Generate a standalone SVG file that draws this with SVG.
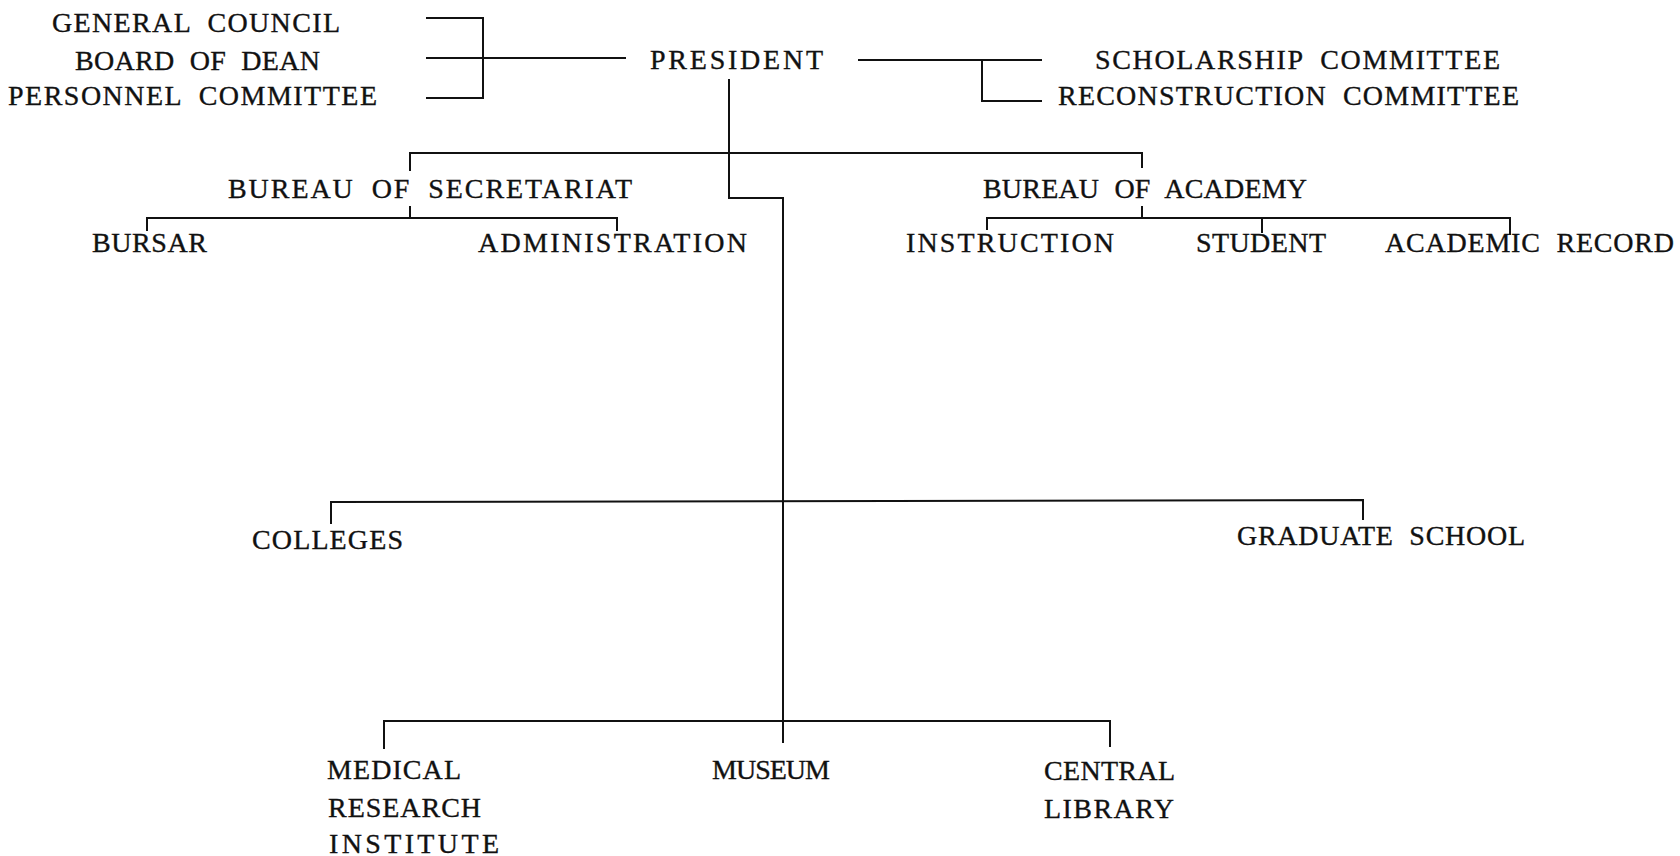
<svg xmlns="http://www.w3.org/2000/svg" width="1680" height="856" viewBox="0 0 1680 856">
<style>
.t{font-family:"Liberation Serif","Times New Roman",serif;font-size:28px;fill:#111;stroke:#111;stroke-width:0.35px;word-spacing:8px;}
.c line,.c polyline{stroke:#111;stroke-width:2;fill:none;stroke-linecap:square;}
</style>
<rect width="1680" height="856" fill="#fff"/>
<g id="general-council"><text class="t" x="52" y="32" textLength="288" lengthAdjust="spacing">GENERAL COUNCIL</text></g>
<g id="board-of-dean"><text class="t" x="75" y="70" textLength="245" lengthAdjust="spacing">BOARD OF DEAN</text></g>
<g id="personnel-committee"><text class="t" x="8" y="105" textLength="369" lengthAdjust="spacing">PERSONNEL COMMITTEE</text></g>
<g id="president"><text class="t" x="650" y="69" textLength="173" lengthAdjust="spacing">PRESIDENT</text></g>
<g id="scholarship-committee"><text class="t" x="1095" y="69" textLength="405" lengthAdjust="spacing">SCHOLARSHIP COMMITTEE</text></g>
<g id="reconstruction-committee"><text class="t" x="1058" y="105" textLength="461" lengthAdjust="spacing">RECONSTRUCTION COMMITTEE</text></g>
<g id="bureau-secretariat"><text class="t" x="228" y="198" textLength="404" lengthAdjust="spacing">BUREAU OF SECRETARIAT</text></g>
<g id="bureau-academy"><text class="t" x="983" y="198" textLength="324" lengthAdjust="spacing">BUREAU OF ACADEMY</text></g>
<g id="bursar"><text class="t" x="92" y="252" textLength="115" lengthAdjust="spacing">BURSAR</text></g>
<g id="administration"><text class="t" x="478" y="252" textLength="269" lengthAdjust="spacing">ADMINISTRATION</text></g>
<g id="instruction"><text class="t" x="906" y="252" textLength="208" lengthAdjust="spacing">INSTRUCTION</text></g>
<g id="student"><text class="t" x="1196" y="252" textLength="130" lengthAdjust="spacing">STUDENT</text></g>
<g id="academic-record"><text class="t" x="1385" y="252" textLength="289" lengthAdjust="spacing">ACADEMIC RECORD</text></g>
<g id="colleges"><text class="t" x="252" y="549" textLength="151" lengthAdjust="spacing">COLLEGES</text></g>
<g id="graduate-school"><text class="t" x="1237" y="545" textLength="288" lengthAdjust="spacing">GRADUATE SCHOOL</text></g>
<g id="medical-research-institute">
<text class="t" x="327" y="779" textLength="134" lengthAdjust="spacing">MEDICAL</text>
<text class="t" x="328" y="817" textLength="153" lengthAdjust="spacing">RESEARCH</text>
<text class="t" x="329" y="853" textLength="170" lengthAdjust="spacing">INSTITUTE</text>
</g>
<g id="museum"><text class="t" x="712" y="779" textLength="118" lengthAdjust="spacing">MUSEUM</text></g>
<g id="central-library">
<text class="t" x="1044" y="780" textLength="131" lengthAdjust="spacing">CENTRAL</text>
<text class="t" x="1044" y="818" textLength="130" lengthAdjust="spacing">LIBRARY</text>
</g>
<g id="connectors" class="c">
<polyline points="427,18 483,18 483,98 427,98"/>
<line x1="427" y1="58" x2="625" y2="58"/>
<line x1="859" y1="60" x2="1041" y2="60"/>
<polyline points="982,60 982,101 1041,101"/>
<polyline points="729,80 729,198 783,198 783,742"/>
<line x1="410" y1="153" x2="1142" y2="153"/>
<line x1="410" y1="153" x2="410" y2="170"/>
<line x1="410" y1="207" x2="410" y2="218"/>
<line x1="1142" y1="153" x2="1142" y2="167"/>
<line x1="1142" y1="207" x2="1142" y2="218"/>
<polyline points="147,230 147,218 617,218 617,230"/>
<polyline points="987,229 987,218 1510,218 1510,234"/>
<line x1="1262" y1="218" x2="1262" y2="232"/>
<polyline points="331,523 331,502 1363,500 1363,519"/>
<polyline points="384,748 384,721 1110,721 1110,746"/>
</g>
</svg>
